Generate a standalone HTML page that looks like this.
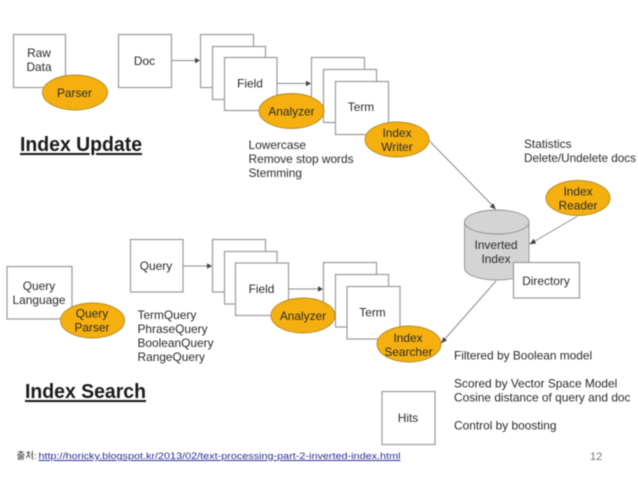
<!DOCTYPE html>
<html><head><meta charset="utf-8"><style>
html,body{margin:0;padding:0;background:#fff}
svg{display:block;filter:blur(.45px)}
text{font-family:"Liberation Sans","Noto Sans CJK KR",sans-serif;font-size:11.9px;fill:#2a2a2a}
.c{text-anchor:middle}
.r{fill:#fff;stroke:#999;stroke-width:1.2}
.e{fill:#f5b00f;stroke:#b08a20;stroke-width:.9}
.l{stroke:#8c8c8c;stroke-width:1;fill:none}
.a{fill:#444}
.t{font-size:20.5px;font-weight:bold;fill:#1a1a1a;text-decoration:underline}
</style></head><body>
<svg width="638" height="479" viewBox="0 0 638 479" xmlns="http://www.w3.org/2000/svg">
<rect width="638" height="479" fill="#fff"/>

<!-- Index update -->
<rect class="r" x="13.5" y="34.5" width="52" height="53"/>
<text class="c" x="39" y="57">Raw</text><text class="c" x="39" y="71">Data</text>
<ellipse class="e" cx="75" cy="92.5" rx="32.5" ry="17.5"/>
<text class="c" x="74.5" y="97">Parser</text>

<rect class="r" x="118.5" y="34.5" width="53" height="53"/>
<text class="c" x="144.5" y="65">Doc</text>
<path class="l" d="M171.5 60.5H196"/><path class="a" d="M200 60.5l-5-2.7v5.4z"/>

<rect class="r" x="200.5" y="34.5" width="53" height="53"/>
<rect class="r" x="212.5" y="46.5" width="53" height="53"/>
<rect class="r" x="224.5" y="57.5" width="52.5" height="53"/>
<text class="c" x="250" y="87.5">Field</text>
<path class="l" d="M277 83.5H307"/><path class="a" d="M311 83.5l-5-2.7v5.4z"/>

<rect class="r" x="311.5" y="57.5" width="53" height="53"/>
<rect class="r" x="323.5" y="69.5" width="53" height="53"/>
<rect class="r" x="335.5" y="81.5" width="53" height="53"/>
<text class="c" x="361" y="111">Term</text>
<ellipse class="e" cx="291.5" cy="111" rx="32.5" ry="17.5"/>
<text class="c" x="291.5" y="115.5">Analyzer</text>
<ellipse class="e" cx="397" cy="139.5" rx="32" ry="17.5"/>
<text class="c" x="397" y="137">Index</text><text class="c" x="397" y="151">Writer</text>

<text class="t" x="20" y="151" textLength="122" lengthAdjust="spacingAndGlyphs">Index Update</text>
<text x="248.5" y="149">Lowercase</text>
<text x="248.5" y="163">Remove stop words</text>
<text x="248.5" y="177">Stemming</text>
<text x="524" y="148">Statistics</text>
<text x="524" y="162" textLength="112" lengthAdjust="spacingAndGlyphs">Delete/Undelete docs</text>

<path class="l" d="M429 140.5L493 206"/><path class="a" d="M496 209.5l-6.3-2.6 3.6-3.6z"/>

<ellipse class="e" cx="578" cy="198" rx="32" ry="17.5"/>
<text class="c" x="578" y="195.5">Index</text><text class="c" x="578" y="209.5">Reader</text>
<path class="l" d="M577 216.5L535 241"/><path class="a" d="M529.5 244.5l4-5.8 2.8 4.7z"/>

<!-- Cylinder -->
<path d="M464.5 222V268A32.25 12 0 0 0 529 268V222Z" fill="#d4d4d4" stroke="#8f8f8f" stroke-width=".9"/>
<ellipse cx="496.75" cy="222" rx="32.25" ry="12" fill="#d4d4d4" stroke="#8f8f8f" stroke-width=".9"/>
<text class="c" x="496" y="249">Inverted</text><text class="c" x="496" y="263">Index</text>
<rect class="r" x="513.5" y="262.5" width="66" height="35.5"/>
<text class="c" x="546" y="285">Directory</text>

<path class="l" d="M496 281L444 340"/><path class="a" d="M441 343.5l2.2-6.4 3.8 3.3z"/>

<!-- Index search -->
<rect class="r" x="7" y="266.5" width="65" height="52.5"/>
<text class="c" x="39" y="290">Query</text><text class="c" x="39" y="304">Language</text>
<ellipse class="e" cx="92.5" cy="320.5" rx="32" ry="17.5"/>
<text class="c" x="92" y="317.5">Query</text><text class="c" x="92" y="331.5">Parser</text>

<rect class="r" x="130.5" y="239.5" width="52.5" height="52.5"/>
<text class="c" x="156" y="270">Query</text>
<path class="l" d="M183 266H208"/><path class="a" d="M212 266l-5-2.7v5.4z"/>

<rect class="r" x="212.5" y="239.5" width="53" height="52.5"/>
<rect class="r" x="224.5" y="251.5" width="52.5" height="52.5"/>
<rect class="r" x="235.5" y="263" width="53" height="52.5"/>
<text class="c" x="261.5" y="293">Field</text>
<path class="l" d="M288.5 289H319"/><path class="a" d="M323 289l-5-2.7v5.4z"/>

<rect class="r" x="323.5" y="262.5" width="53" height="53"/>
<rect class="r" x="335.5" y="274.5" width="53" height="52.5"/>
<rect class="r" x="347" y="286.5" width="53" height="52.5"/>
<text class="c" x="372.5" y="316.5">Term</text>
<ellipse class="e" cx="303" cy="315.5" rx="32" ry="17.5"/>
<text class="c" x="303" y="320">Analyzer</text>
<ellipse class="e" cx="409" cy="344" rx="32" ry="18"/>
<text class="c" x="408" y="342">Index</text><text class="c" x="408.5" y="356">Searcher</text>

<text x="137.5" y="319">TermQuery</text>
<text x="137.5" y="333">PhraseQuery</text>
<text x="137.5" y="347">BooleanQuery</text>
<text x="137.5" y="361">RangeQuery</text>

<text x="454" y="359.5">Filtered by Boolean model</text>
<text x="454" y="387.5">Scored by Vector Space Model</text>
<text x="454" y="401.5">Cosine distance of query and doc</text>
<text x="454" y="429.5">Control by boosting</text>

<rect class="r" x="382" y="391.5" width="53" height="53"/>
<text class="c" x="408" y="422">Hits</text>

<text class="t" x="25" y="398" textLength="121" lengthAdjust="spacingAndGlyphs">Index Search</text>

<text x="16.5" y="459" style="font-size:9.5px">출처:</text>
<text x="38.5" y="459" style="font-size:9.6px;fill:#2a2a9a;text-decoration:underline" textLength="362" lengthAdjust="spacingAndGlyphs">http://horicky.blogspot.kr/2013/02/text-processing-part-2-inverted-index.html</text>
<text x="590" y="460" style="font-size:11px;fill:#777">12</text>
</svg>
</body></html>
